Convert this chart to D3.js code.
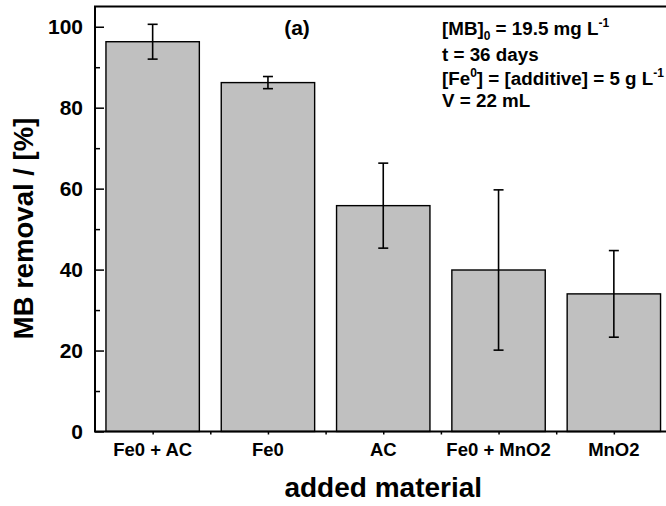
<!DOCTYPE html>
<html>
<head>
<meta charset="utf-8">
<script src="https://cdn.jsdelivr.net/npm/d3@7"></script>
<style>
  body { margin: 0; background: #fff; }
  svg { display: block; font-family: "Liberation Sans", Arial, sans-serif; font-weight: bold; }
</style>
</head>
<body>
<div id="chart"></div>
<script>
// data
const materials = ["Fe0 + AC", "Fe0", "AC", "Fe0 + MnO2", "MnO2"];
const removal = [96.3, 86.2, 55.8, 39.9, 34.0];
const errors = [4.3, 1.5, 10.5, 19.8, 10.7];
const yTicks = [0, 20, 40, 60, 80, 100];
const yMinor = [10, 30, 50, 70, 90];

var width = 666, height = 506;
var mLeft = 95, mTop = 6.5, mBottom = 431.5, mRight = 671.5;

var svg = d3.select("#chart").append("svg")
    .attr("width", width)
    .attr("height", height);

var x = d3.scaleLinear().domain([0.5, materials.length + 0.5]).range([mLeft, mRight]);
var y = d3.scaleLinear().domain([0, 105]).range([mBottom, mTop]);
var barW = (x(1) - x(0)) * 0.81;

// bars
svg.append("g")
    .selectAll("rect")
    .data(removal)
    .enter()
    .append("rect")
    .attr("x", (d, i) => x(i + 1) - barW / 2)
    .attr("y", d => y(d))
    .attr("width", barW)
    .attr("height", d => y(0) - y(d))
    .attr("fill", "#c0c0c0")
    .attr("stroke", "#000")
    .attr("stroke-width", 1.4);

// error bars
var eb = svg.append("g").attr("stroke", "#000").attr("stroke-width", 1.6);
removal.forEach(function(v, i) {
    var cx = x(i + 1);
    eb.append("line").attr("x1", cx).attr("x2", cx).attr("y1", y(v - errors[i])).attr("y2", y(v + errors[i]));
    eb.append("line").attr("x1", cx - 5).attr("x2", cx + 5).attr("y1", y(v - errors[i])).attr("y2", y(v - errors[i]));
    eb.append("line").attr("x1", cx - 5).attr("x2", cx + 5).attr("y1", y(v + errors[i])).attr("y2", y(v + errors[i]));
});

// frame
svg.append("rect")
    .attr("x", mLeft).attr("y", mTop)
    .attr("width", mRight - mLeft).attr("height", mBottom - mTop)
    .attr("fill", "none").attr("stroke", "#000").attr("stroke-width", 2);

// y axis ticks (inside)
svg.append("g").attr("transform", "translate(" + mLeft + ",0)")
    .call(d3.axisRight(y).tickValues(yTicks).tickSize(9).tickFormat(""))
    .call(g => g.select(".domain").remove())
    .call(g => g.selectAll("line").attr("stroke-width", 1.5));
svg.append("g").attr("transform", "translate(" + mLeft + ",0)")
    .call(d3.axisRight(y).tickValues(yMinor).tickSize(5).tickFormat(""))
    .call(g => g.select(".domain").remove())
    .call(g => g.selectAll("line").attr("stroke-width", 1.5));

svg.append("g")
    .selectAll("text")
    .data(yTicks)
    .enter()
    .append("text")
    .attr("x", 83)
    .attr("y", d => y(d))
    .attr("dy", "0.36em")
    .attr("text-anchor", "end")
    .style("font-size", "21px")
    .text(d => d);

// x tick labels
svg.append("g")
    .selectAll("text")
    .data(materials)
    .enter()
    .append("text")
    .attr("x", (d, i) => x(i + 1))
    .attr("y", 456)
    .attr("text-anchor", "middle")
    .style("font-size", "18.5px")
    .text(d => d);

// small ticks on the x axis
var xTickVals = d3.range(1, materials.length + 0.01, 0.5);
svg.append("g").attr("transform", "translate(0," + mBottom + ")")
    .call(d3.axisBottom(x).tickValues(xTickVals).tickSize(3).tickFormat(""))
    .call(g => g.select(".domain").remove())
    .call(g => g.selectAll("line").attr("stroke-width", 1.5));

// axis titles
svg.append("text")
    .attr("x", (mLeft + mRight) / 2)
    .attr("y", 497)
    .attr("text-anchor", "middle")
    .style("font-size", "28px")
    .text("added material");

svg.append("text")
    .attr("transform", "translate(33,228.5) rotate(-90)")
    .attr("text-anchor", "middle")
    .style("font-size", "27.5px")
    .text("MB removal / [%]");

// panel label
svg.append("text")
    .attr("x", 297)
    .attr("y", 35)
    .attr("text-anchor", "middle")
    .style("font-size", "21px")
    .text("(a)");

// conditions
var note = svg.append("g").style("font-size", "18.8px");
var l1 = note.append("text").attr("x", 442).attr("y", 35);
l1.append("tspan").text("[MB]");
l1.append("tspan").attr("dy", 5).style("font-size", "12px").text("0");
l1.append("tspan").attr("dy", -5).text(" = 19.5 mg L");
l1.append("tspan").attr("dy", -8).style("font-size", "12px").text("-1");

note.append("text").attr("x", 442).attr("y", 61).text("t = 36 days");

var l3 = note.append("text").attr("x", 442).attr("y", 85);
l3.append("tspan").text("[Fe");
l3.append("tspan").attr("dy", -8).style("font-size", "12px").text("0");
l3.append("tspan").attr("dy", 8).text("] = [additive] = 5 g L");
l3.append("tspan").attr("dy", -8).style("font-size", "12px").text("-1");

note.append("text").attr("x", 442).attr("y", 107).text("V = 22 mL");
</script>
</body>
</html>
